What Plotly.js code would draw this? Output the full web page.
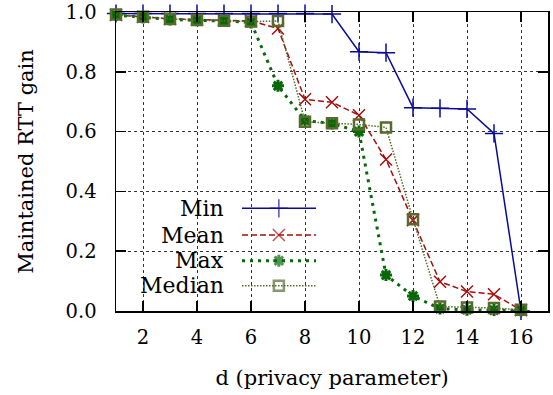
<!DOCTYPE html>
<html>
<head>
<meta charset="utf-8">
<script src="https://cdn.plot.ly/plotly-3.0.1.min.js"></script>
<style>html,body{margin:0;padding:0;background:#fff;}</style>
</head>
<body>
<div id="chart" style="width:553px;height:395px;"></div>
<script>
const dValues = [1,2,3,4,5,6,7,8,9,10,11,12,13,14,15,16];
const minGain = [0.995,0.995,0.995,0.995,0.995,0.995,0.995,0.995,0.993,0.867,0.864,0.680,0.678,0.676,0.594,0.0];
const meanGain = [0.99,0.983,0.977,0.975,0.973,0.97,0.945,0.708,0.698,0.655,0.507,0.304,0.098,0.065,0.056,0.003];
const maxGain = [0.99,0.982,0.975,0.972,0.97,0.965,0.753,0.637,0.627,0.60,0.120,0.050,0.008,0.004,0.003,0.002];
const medianGain = [0.992,0.984,0.977,0.973,0.971,0.968,0.97,0.633,0.628,0.624,0.614,0.307,0.015,0.012,0.010,0.004];
const seriesNames = ["Min","Mean","Max","Median"];
const xTicks = [2,4,6,8,10,12,14,16];
const yTicks = [0,0.2,0.4,0.6,0.8,1.0];

const FONT = "DejaVu Serif";

const styles = [
  {color:'#0a0a9c', dash:'solid', width:1.5, symbol:'cross-thin', size:13, mlw:1.5},
  {color:'#a80c0c', dash:'6px,3px', width:1.5, symbol:'x-thin', size:12, mlw:1.5},
  {color:'#086808', dash:'3px,5px', width:3, symbol:'asterisk-open', size:10, mlw:3},
  {color:'#566b2c', dash:'1.5px,1.5px', width:1.5, symbol:'square-open', size:10, mlw:2.5}
];
const series = [minGain, meanGain, maxGain, medianGain];

const traces = series.map((ys, i) => ({
  type:'scatter', mode:'lines+markers', x:dValues, y:ys, name:seriesNames[i],
  line:{color:styles[i].color, dash:styles[i].dash, width:styles[i].width},
  marker:{symbol:styles[i].symbol, size:styles[i].size, color:styles[i].color,
          line:{color:styles[i].color, width:styles[i].mlw}},
  showlegend:false, cliponaxis:false
}));

const legRows = [0.3435, 0.254, 0.168, 0.0846];
const keyX = [0.2917, 0.377, 0.463];
const annotations = [];
seriesNames.forEach((nm, i) => {
  traces.push({
    type:'scatter', mode:'lines+markers', xaxis:'x2', yaxis:'y2',
    x:keyX, y:[legRows[i],legRows[i],legRows[i]],
    line:{color:styles[i].color, dash:styles[i].dash, width:styles[i].width},
    marker:{symbol:styles[i].symbol, size:[0,styles[i].size,0], color:styles[i].color,
            line:{color:styles[i].color, width:styles[i].mlw}},
    showlegend:false, hoverinfo:'skip', cliponaxis:false
  });
  annotations.push({
    xref:'paper', yref:'paper', x:0.2546, y:legRows[i], xanchor:'right', yanchor:'middle',
    text:nm, showarrow:false, font:{family:FONT, size:22, color:'#000'}
  });
});

const axisCommon = {
  showline:true, linecolor:'#000', linewidth:1.5, mirror:'ticks',
  ticks:'inside', ticklen:10, tickwidth:1.5, tickcolor:'#000',
  showgrid:true, gridcolor:'#333', griddash:'dot', gridwidth:1,
  zeroline:false, ticklabeloverflow:'allow',
  tickfont:{family:FONT, size:19.5, color:'#000'}
};

const layout = {
  width:553, height:395,
  margin:{l:116, r:5, t:12, b:84},
  paper_bgcolor:'#fff', plot_bgcolor:'#fff',
  font:{family:FONT, color:'#000'},
  xaxis:Object.assign({}, axisCommon, {
    range:[1,17], tickvals:xTicks, ticklabelstandoff:8,
    title:{text:'d (privacy parameter)', font:{family:FONT, size:21, color:'#000'}, standoff:22}
  }),
  yaxis:Object.assign({}, axisCommon, {
    range:[0,1], tickvals:yTicks, tickformat:'.1f', ticklabelstandoff:14,
    title:{text:'Maintained RTT gain', font:{family:FONT, size:21, color:'#000'}, standoff:26}
  }),
  xaxis2:{overlaying:'x', range:[0,1], visible:false, fixedrange:true},
  yaxis2:{overlaying:'y', range:[0,1], visible:false, fixedrange:true},
  shapes:[{type:'rect', xref:'paper', yref:'paper', x0:0.008, x1:0.495, y0:0.004, y1:0.39,
           fillcolor:'#fff', line:{width:0}, layer:'between'}],
  annotations:annotations
};

Plotly.newPlot('chart', traces, layout, {staticPlot:true, displayModeBar:false});
</script>
</body>
</html>
